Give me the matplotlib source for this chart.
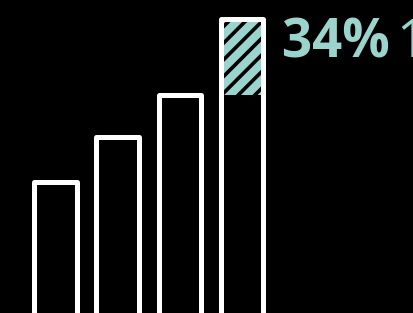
import matplotlib
matplotlib.use("Agg")
import matplotlib.pyplot as plt

# bar heights (third bar = 100), last bar is +34%
labels = ["1", "2", "3", "4"]
values = [61, 81, 100, 134]
growth_label = "34%"
tail_label = "1"

teal = "#9bd3cd"
plt.rcParams['hatch.linewidth'] = 2.6

fig = plt.figure(figsize=(4.14, 3.13), dpi=100, facecolor="black")
ax = fig.add_axes([0, 0, 1, 1])
ax.set_facecolor("black")

x = list(range(len(values)))
w = 0.683

# black body of the bars
ax.bar(x, values, width=w, color="black", linewidth=0, zorder=1)

# hatched growth part on the last bar
ax.bar(x[-1], values[-1] - values[-2], bottom=values[-2], width=w,
       facecolor=teal, edgecolor="black", hatch="//", linewidth=0, zorder=2)

# white outlines
outl = ax.bar(x, values, width=w, facecolor="none", edgecolor="white",
              linewidth=3.6, zorder=3)
for p in outl:
    p.set_joinstyle("round")

ax.set_xlim(-0.892, 5.764)
ax.set_ylim(2.46, 142.5)
ax.axis("off")

fig.text(282 / 414, 1 - 57 / 313, growth_label, color=teal, fontsize=38,
         fontfamily="Open Sans", fontweight="bold", va="baseline", ha="left")
fig.text(396 / 414, 1 - 57 / 313, tail_label, color=teal, fontsize=38,
         fontfamily="Open Sans", va="baseline", ha="left")

fig.savefig("out.png", dpi=100, facecolor="black")
